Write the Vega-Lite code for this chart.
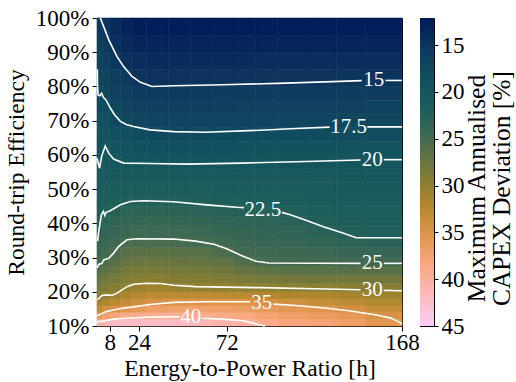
{
"$schema":"https://vega.github.io/schema/vega-lite/v6.json",
"autosize":{"type":"none"},
"padding":{"left":97,"top":18,"right":419,"bottom":364},
"bounds":"flush",
"spacing":18,
"config":{"font":"Liberation Serif","view":{"stroke":"black","strokeWidth":1},
"axis":{"labelFontSize":23,"titleFontSize":23.5,"titleFontWeight":"normal","labelColor":"black","titleColor":"black","tickColor":"black","domainColor":"black","tickSize":5,"grid":false,"labelFlush":false,"labelOverlap":false,"labelFont":"Liberation Serif","titleFont":"Liberation Serif"},
"axisY":{"labelOverlap":false},
"axisQuantitative":{"labelOverlap":false}},
"datasets":{
"cols":[{"x":2.5,"xa":1,"xb":4},{"x":6,"xa":4,"xb":8},{"x":11,"xa":8,"xb":14},{"x":17,"xa":14,"xb":20},{"x":24,"xa":20,"xb":28},{"x":34,"xa":28,"xb":40},{"x":46,"xa":40,"xb":52},{"x":58,"xa":52,"xb":64},{"x":70,"xa":64,"xb":76},{"x":82,"xa":76,"xb":88},{"x":94,"xa":88,"xb":100},{"x":108,"xa":100,"xb":116},{"x":124,"xa":116,"xb":132},{"x":140,"xa":132,"xb":148},{"x":158,"xa":148,"xb":168}],
"rows":[{"y":11,"ya":10,"yb":12},{"y":13,"ya":12,"yb":14},{"y":15,"ya":14,"yb":16},{"y":17,"ya":16,"yb":18},{"y":19,"ya":18,"yb":20},{"y":21.25,"ya":20,"yb":22.5},{"y":23.75,"ya":22.5,"yb":25},{"y":26.25,"ya":25,"yb":27.5},{"y":28.75,"ya":27.5,"yb":30},{"y":31.5,"ya":30,"yb":33},{"y":34.5,"ya":33,"yb":36},{"y":37.5,"ya":36,"yb":39},{"y":40.5,"ya":39,"yb":42},{"y":43.5,"ya":42,"yb":45},{"y":46.5,"ya":45,"yb":48},{"y":50,"ya":48,"yb":52},{"y":54,"ya":52,"yb":56},{"y":58,"ya":56,"yb":60},{"y":62,"ya":60,"yb":64},{"y":66,"ya":64,"yb":68},{"y":70,"ya":68,"yb":72},{"y":74,"ya":72,"yb":76},{"y":78,"ya":76,"yb":80},{"y":82.5,"ya":80,"yb":85},{"y":87.5,"ya":85,"yb":90},{"y":92.5,"ya":90,"yb":95},{"y":97.5,"ya":95,"yb":100}],
"cells":[
{"x":2.5,"y":11,"v":40.7},{"x":2.5,"y":13,"v":36.0},{"x":2.5,"y":15,"v":33.3},{"x":2.5,"y":17,"v":31.2},{"x":2.5,"y":19,"v":29.6},{"x":2.5,"y":21.25,"v":28.5},{"x":2.5,"y":23.75,"v":27.3},{"x":2.5,"y":26.25,"v":26.1},{"x":2.5,"y":28.75,"v":24.95},{"x":2.5,"y":31.5,"v":24.4},{"x":2.5,"y":34.5,"v":23.8},{"x":2.5,"y":37.5,"v":23.2},{"x":2.5,"y":40.5,"v":22.6},{"x":2.5,"y":43.5,"v":22.1},{"x":2.5,"y":46.5,"v":21.7},{"x":2.5,"y":50,"v":21.2},{"x":2.5,"y":54,"v":20.6},{"x":2.5,"y":58,"v":20.0},{"x":2.5,"y":62,"v":19.5},{"x":2.5,"y":66,"v":19.0},{"x":2.5,"y":70,"v":18.5},{"x":2.5,"y":74,"v":18.0},{"x":2.5,"y":78,"v":17.5},{"x":2.5,"y":82.5,"v":17.0},{"x":2.5,"y":87.5,"v":16.5},{"x":2.5,"y":92.5,"v":15.9},{"x":2.5,"y":97.5,"v":15.4},
{"x":6,"y":11,"v":41.2},{"x":6,"y":13,"v":37.3},{"x":6,"y":15,"v":34.2},{"x":6,"y":17,"v":32.1},{"x":6,"y":19,"v":30.0},{"x":6,"y":21.25,"v":28.9},{"x":6,"y":23.75,"v":27.8},{"x":6,"y":26.25,"v":26.6},{"x":6,"y":28.75,"v":25.4},{"x":6,"y":31.5,"v":24.7},{"x":6,"y":34.5,"v":24.1},{"x":6,"y":37.5,"v":23.6},{"x":6,"y":40.5,"v":23.1},{"x":6,"y":43.5,"v":22.5},{"x":6,"y":46.5,"v":22.1},{"x":6,"y":50,"v":21.6},{"x":6,"y":54,"v":21.1},{"x":6,"y":58,"v":20.5},{"x":6,"y":62,"v":20.0},{"x":6,"y":66,"v":19.3},{"x":6,"y":70,"v":18.6},{"x":6,"y":74,"v":17.8},{"x":6,"y":78,"v":17.2},{"x":6,"y":82.5,"v":16.7},{"x":6,"y":87.5,"v":16.0},{"x":6,"y":92.5,"v":15.4},{"x":6,"y":97.5,"v":14.7},
{"x":11,"y":11,"v":41.8},{"x":11,"y":13,"v":38.2},{"x":11,"y":15,"v":34.8},{"x":11,"y":17,"v":32.7},{"x":11,"y":19,"v":30.5},{"x":11,"y":21.25,"v":29.3},{"x":11,"y":23.75,"v":28.3},{"x":11,"y":26.25,"v":27.4},{"x":11,"y":28.75,"v":26.4},{"x":11,"y":31.5,"v":25.3},{"x":11,"y":34.5,"v":24.55},{"x":11,"y":37.5,"v":23.9},{"x":11,"y":40.5,"v":23.3},{"x":11,"y":43.5,"v":22.7},{"x":11,"y":46.5,"v":22.2},{"x":11,"y":50,"v":21.5},{"x":11,"y":54,"v":20.8},{"x":11,"y":58,"v":20.1},{"x":11,"y":62,"v":19.4},{"x":11,"y":66,"v":18.6},{"x":11,"y":70,"v":17.8},{"x":11,"y":74,"v":17.2},{"x":11,"y":78,"v":16.6},{"x":11,"y":82.5,"v":16.0},{"x":11,"y":87.5,"v":15.2},{"x":11,"y":92.5,"v":14.5},{"x":11,"y":97.5,"v":13.8},
{"x":17,"y":11,"v":42.1},{"x":17,"y":13,"v":38.8},{"x":17,"y":15,"v":35.5},{"x":17,"y":17,"v":33.5},{"x":17,"y":19,"v":31.8},{"x":17,"y":21.25,"v":29.9},{"x":17,"y":23.75,"v":29.0},{"x":17,"y":26.25,"v":28.1},{"x":17,"y":28.75,"v":27.2},{"x":17,"y":31.5,"v":26.25},{"x":17,"y":34.5,"v":25.2},{"x":17,"y":37.5,"v":24.4},{"x":17,"y":40.5,"v":23.75},{"x":17,"y":43.5,"v":23.1},{"x":17,"y":46.5,"v":22.4},{"x":17,"y":50,"v":21.6},{"x":17,"y":54,"v":20.8},{"x":17,"y":58,"v":19.9},{"x":17,"y":62,"v":19.1},{"x":17,"y":66,"v":18.2},{"x":17,"y":70,"v":17.4},{"x":17,"y":74,"v":16.7},{"x":17,"y":78,"v":16.1},{"x":17,"y":82.5,"v":15.3},{"x":17,"y":87.5,"v":14.5},{"x":17,"y":92.5,"v":13.7},{"x":17,"y":97.5,"v":13.0},
{"x":24,"y":11,"v":42.3},{"x":24,"y":13,"v":39.2},{"x":24,"y":15,"v":36.2},{"x":24,"y":17,"v":34.1},{"x":24,"y":19,"v":32.5},{"x":24,"y":21.25,"v":30.7},{"x":24,"y":23.75,"v":29.4},{"x":24,"y":26.25,"v":28.5},{"x":24,"y":28.75,"v":27.5},{"x":24,"y":31.5,"v":26.5},{"x":24,"y":34.5,"v":25.3},{"x":24,"y":37.5,"v":24.5},{"x":24,"y":40.5,"v":23.8},{"x":24,"y":43.5,"v":23.2},{"x":24,"y":46.5,"v":22.5},{"x":24,"y":50,"v":21.7},{"x":24,"y":54,"v":20.8},{"x":24,"y":58,"v":19.9},{"x":24,"y":62,"v":18.9},{"x":24,"y":66,"v":17.9},{"x":24,"y":70,"v":17.1},{"x":24,"y":74,"v":16.4},{"x":24,"y":78,"v":15.6},{"x":24,"y":82.5,"v":14.8},{"x":24,"y":87.5,"v":14.1},{"x":24,"y":92.5,"v":13.3},{"x":24,"y":97.5,"v":12.6},
{"x":34,"y":11,"v":42.0},{"x":34,"y":13,"v":39.5},{"x":34,"y":15,"v":36.9},{"x":34,"y":17,"v":34.6},{"x":34,"y":19,"v":32.9},{"x":34,"y":21.25,"v":31.0},{"x":34,"y":23.75,"v":29.5},{"x":34,"y":26.25,"v":28.5},{"x":34,"y":28.75,"v":27.6},{"x":34,"y":31.5,"v":26.5},{"x":34,"y":34.5,"v":25.4},{"x":34,"y":37.5,"v":24.5},{"x":34,"y":40.5,"v":23.9},{"x":34,"y":43.5,"v":23.2},{"x":34,"y":46.5,"v":22.5},{"x":34,"y":50,"v":21.7},{"x":34,"y":54,"v":20.8},{"x":34,"y":58,"v":19.8},{"x":34,"y":62,"v":18.8},{"x":34,"y":66,"v":17.8},{"x":34,"y":70,"v":16.95},{"x":34,"y":74,"v":16.2},{"x":34,"y":78,"v":15.4},{"x":34,"y":82.5,"v":14.65},{"x":34,"y":87.5,"v":13.95},{"x":34,"y":92.5,"v":13.25},{"x":34,"y":97.5,"v":12.55},
{"x":46,"y":11,"v":41.95},{"x":46,"y":13,"v":39.65},{"x":46,"y":15,"v":37.3},{"x":46,"y":17,"v":35.0},{"x":46,"y":19,"v":32.8},{"x":46,"y":21.25,"v":30.4},{"x":46,"y":23.75,"v":29.2},{"x":46,"y":26.25,"v":28.3},{"x":46,"y":28.75,"v":27.4},{"x":46,"y":31.5,"v":26.4},{"x":46,"y":34.5,"v":25.3},{"x":46,"y":37.5,"v":24.5},{"x":46,"y":40.5,"v":23.8},{"x":46,"y":43.5,"v":23.1},{"x":46,"y":46.5,"v":22.4},{"x":46,"y":50,"v":21.6},{"x":46,"y":54,"v":20.7},{"x":46,"y":58,"v":19.8},{"x":46,"y":62,"v":18.75},{"x":46,"y":66,"v":17.7},{"x":46,"y":70,"v":16.9},{"x":46,"y":74,"v":16.1},{"x":46,"y":78,"v":15.4},{"x":46,"y":82.5,"v":14.65},{"x":46,"y":87.5,"v":13.95},{"x":46,"y":92.5,"v":13.25},{"x":46,"y":97.5,"v":12.55},
{"x":58,"y":11,"v":41.4},{"x":58,"y":13,"v":39.3},{"x":58,"y":15,"v":37.2},{"x":58,"y":17,"v":35.1},{"x":58,"y":19,"v":32.8},{"x":58,"y":21.25,"v":30.2},{"x":58,"y":23.75,"v":29.1},{"x":58,"y":26.25,"v":28.2},{"x":58,"y":28.75,"v":27.2},{"x":58,"y":31.5,"v":26.2},{"x":58,"y":34.5,"v":25.0},{"x":58,"y":37.5,"v":24.3},{"x":58,"y":40.5,"v":23.7},{"x":58,"y":43.5,"v":23.0},{"x":58,"y":46.5,"v":22.3},{"x":58,"y":50,"v":21.6},{"x":58,"y":54,"v":20.7},{"x":58,"y":58,"v":19.8},{"x":58,"y":62,"v":18.75},{"x":58,"y":66,"v":17.7},{"x":58,"y":70,"v":16.9},{"x":58,"y":74,"v":16.2},{"x":58,"y":78,"v":15.4},{"x":58,"y":82.5,"v":14.7},{"x":58,"y":87.5,"v":14.0},{"x":58,"y":92.5,"v":13.3},{"x":58,"y":97.5,"v":12.6},
{"x":70,"y":11,"v":40.85},{"x":70,"y":13,"v":38.9},{"x":70,"y":15,"v":37.0},{"x":70,"y":17,"v":35.1},{"x":70,"y":19,"v":32.7},{"x":70,"y":21.25,"v":30.1},{"x":70,"y":23.75,"v":28.95},{"x":70,"y":26.25,"v":27.9},{"x":70,"y":28.75,"v":26.8},{"x":70,"y":31.5,"v":25.6},{"x":70,"y":34.5,"v":24.7},{"x":70,"y":37.5,"v":24.1},{"x":70,"y":40.5,"v":23.45},{"x":70,"y":43.5,"v":22.8},{"x":70,"y":46.5,"v":22.2},{"x":70,"y":50,"v":21.5},{"x":70,"y":54,"v":20.7},{"x":70,"y":58,"v":19.9},{"x":70,"y":62,"v":18.8},{"x":70,"y":66,"v":17.8},{"x":70,"y":70,"v":16.9},{"x":70,"y":74,"v":16.2},{"x":70,"y":78,"v":15.5},{"x":70,"y":82.5,"v":14.7},{"x":70,"y":87.5,"v":14.0},{"x":70,"y":92.5,"v":13.3},{"x":70,"y":97.5,"v":12.6},
{"x":82,"y":11,"v":40.25},{"x":82,"y":13,"v":38.5},{"x":82,"y":15,"v":36.8},{"x":82,"y":17,"v":35.1},{"x":82,"y":19,"v":32.7},{"x":82,"y":21.25,"v":30.0},{"x":82,"y":23.75,"v":28.6},{"x":82,"y":26.25,"v":27.2},{"x":82,"y":28.75,"v":25.85},{"x":82,"y":31.5,"v":24.8},{"x":82,"y":34.5,"v":24.3},{"x":82,"y":37.5,"v":23.8},{"x":82,"y":40.5,"v":23.2},{"x":82,"y":43.5,"v":22.7},{"x":82,"y":46.5,"v":22.2},{"x":82,"y":50,"v":21.5},{"x":82,"y":54,"v":20.7},{"x":82,"y":58,"v":19.9},{"x":82,"y":62,"v":18.9},{"x":82,"y":66,"v":17.8},{"x":82,"y":70,"v":17.0},{"x":82,"y":74,"v":16.25},{"x":82,"y":78,"v":15.5},{"x":82,"y":82.5,"v":14.7},{"x":82,"y":87.5,"v":14.0},{"x":82,"y":92.5,"v":13.3},{"x":82,"y":97.5,"v":12.6},
{"x":94,"y":11,"v":39.1},{"x":94,"y":13,"v":37.65},{"x":94,"y":15,"v":36.2},{"x":94,"y":17,"v":34.7},{"x":94,"y":19,"v":32.4},{"x":94,"y":21.25,"v":29.9},{"x":94,"y":23.75,"v":28.2},{"x":94,"y":26.25,"v":26.6},{"x":94,"y":28.75,"v":25.0},{"x":94,"y":31.5,"v":24.5},{"x":94,"y":34.5,"v":24.0},{"x":94,"y":37.5,"v":23.6},{"x":94,"y":40.5,"v":23.1},{"x":94,"y":43.5,"v":22.6},{"x":94,"y":46.5,"v":22.05},{"x":94,"y":50,"v":21.4},{"x":94,"y":54,"v":20.7},{"x":94,"y":58,"v":20.0},{"x":94,"y":62,"v":18.9},{"x":94,"y":66,"v":17.9},{"x":94,"y":70,"v":17.0},{"x":94,"y":74,"v":16.3},{"x":94,"y":78,"v":15.5},{"x":94,"y":82.5,"v":14.8},{"x":94,"y":87.5,"v":14.05},{"x":94,"y":92.5,"v":13.3},{"x":94,"y":97.5,"v":12.6},
{"x":108,"y":11,"v":38.3},{"x":108,"y":13,"v":37.0},{"x":108,"y":15,"v":35.7},{"x":108,"y":17,"v":34.0},{"x":108,"y":19,"v":32.0},{"x":108,"y":21.25,"v":29.8},{"x":108,"y":23.75,"v":28.1},{"x":108,"y":26.25,"v":26.4},{"x":108,"y":28.75,"v":24.9},{"x":108,"y":31.5,"v":24.4},{"x":108,"y":34.5,"v":23.9},{"x":108,"y":37.5,"v":23.4},{"x":108,"y":40.5,"v":22.85},{"x":108,"y":43.5,"v":22.3},{"x":108,"y":46.5,"v":21.9},{"x":108,"y":50,"v":21.3},{"x":108,"y":54,"v":20.7},{"x":108,"y":58,"v":20.0},{"x":108,"y":62,"v":19.0},{"x":108,"y":66,"v":18.0},{"x":108,"y":70,"v":17.1},{"x":108,"y":74,"v":16.3},{"x":108,"y":78,"v":15.6},{"x":108,"y":82.5,"v":14.8},{"x":108,"y":87.5,"v":14.05},{"x":108,"y":92.5,"v":13.3},{"x":108,"y":97.5,"v":12.6},
{"x":124,"y":11,"v":37.85},{"x":124,"y":13,"v":36.6},{"x":124,"y":15,"v":35.3},{"x":124,"y":17,"v":33.5},{"x":124,"y":19,"v":31.7},{"x":124,"y":21.25,"v":29.7},{"x":124,"y":23.75,"v":28.0},{"x":124,"y":26.25,"v":26.4},{"x":124,"y":28.75,"v":24.9},{"x":124,"y":31.5,"v":24.3},{"x":124,"y":34.5,"v":23.6},{"x":124,"y":37.5,"v":22.9},{"x":124,"y":40.5,"v":22.3},{"x":124,"y":43.5,"v":21.9},{"x":124,"y":46.5,"v":21.5},{"x":124,"y":50,"v":21.1},{"x":124,"y":54,"v":20.6},{"x":124,"y":58,"v":20.0},{"x":124,"y":62,"v":19.05},{"x":124,"y":66,"v":18.0},{"x":124,"y":70,"v":17.1},{"x":124,"y":74,"v":16.4},{"x":124,"y":78,"v":15.6},{"x":124,"y":82.5,"v":14.8},{"x":124,"y":87.5,"v":14.1},{"x":124,"y":92.5,"v":13.3},{"x":124,"y":97.5,"v":12.6},
{"x":140,"y":11,"v":37.1},{"x":140,"y":13,"v":35.9},{"x":140,"y":15,"v":34.5},{"x":140,"y":17,"v":32.9},{"x":140,"y":19,"v":31.3},{"x":140,"y":21.25,"v":29.6},{"x":140,"y":23.75,"v":28.0},{"x":140,"y":26.25,"v":26.3},{"x":140,"y":28.75,"v":24.9},{"x":140,"y":31.5,"v":24.0},{"x":140,"y":34.5,"v":23.1},{"x":140,"y":37.5,"v":22.4},{"x":140,"y":40.5,"v":22.05},{"x":140,"y":43.5,"v":21.7},{"x":140,"y":46.5,"v":21.4},{"x":140,"y":50,"v":21.0},{"x":140,"y":54,"v":20.5},{"x":140,"y":58,"v":20.05},{"x":140,"y":62,"v":19.1},{"x":140,"y":66,"v":18.1},{"x":140,"y":70,"v":17.2},{"x":140,"y":74,"v":16.4},{"x":140,"y":78,"v":15.7},{"x":140,"y":82.5,"v":14.9},{"x":140,"y":87.5,"v":14.1},{"x":140,"y":92.5,"v":13.3},{"x":140,"y":97.5,"v":12.6},
{"x":158,"y":11,"v":35.6},{"x":158,"y":13,"v":34.7},{"x":158,"y":15,"v":33.5},{"x":158,"y":17,"v":32.2},{"x":158,"y":19,"v":30.9},{"x":158,"y":21.25,"v":29.5},{"x":158,"y":23.75,"v":27.9},{"x":158,"y":26.25,"v":26.3},{"x":158,"y":28.75,"v":24.85},{"x":158,"y":31.5,"v":23.9},{"x":158,"y":34.5,"v":22.9},{"x":158,"y":37.5,"v":22.3},{"x":158,"y":40.5,"v":22.0},{"x":158,"y":43.5,"v":21.7},{"x":158,"y":46.5,"v":21.4},{"x":158,"y":50,"v":20.9},{"x":158,"y":54,"v":20.5},{"x":158,"y":58,"v":20.07},{"x":158,"y":62,"v":19.1},{"x":158,"y":66,"v":18.2},{"x":158,"y":70,"v":17.2},{"x":158,"y":74,"v":16.5},{"x":158,"y":78,"v":15.7},{"x":158,"y":82.5,"v":14.9},{"x":158,"y":87.5,"v":14.1},{"x":158,"y":92.5,"v":13.3},{"x":158,"y":97.5,"v":12.6}
],
"lines":[
{"c":"15a","x":2.8,"y":100},{"c":"15a","x":4.3,"y":98},{"c":"15a","x":7.4,"y":93.7},{"c":"15a","x":9.2,"y":91.7},{"c":"15a","x":11.9,"y":88.8},{"c":"15a","x":15.6,"y":85.8},{"c":"15a","x":20.2,"y":82.9},{"c":"15a","x":24.8,"y":81.2},{"c":"15a","x":31.1,"y":80.0},{"c":"15a","x":43,"y":80.2},{"c":"15a","x":70,"y":80.5},{"c":"15a","x":100,"y":80.9},{"c":"15a","x":130,"y":81.4},{"c":"15a","x":146,"y":81.7},
{"c":"15b","x":159,"y":81.75},{"c":"15b","x":168,"y":81.75},
{"c":"17a","x":1.2,"y":85},{"c":"17a","x":1.3,"y":80},{"c":"17a","x":1.6,"y":77.5},{"c":"17a","x":2.5,"y":77.3},{"c":"17a","x":3.5,"y":78},{"c":"17a","x":4.5,"y":76.8},{"c":"17a","x":6,"y":76},{"c":"17a","x":8.3,"y":73.7},{"c":"17a","x":10.5,"y":71.8},{"c":"17a","x":13.8,"y":69.8},{"c":"17a","x":17,"y":68.9},{"c":"17a","x":21,"y":68.3},{"c":"17a","x":30,"y":67.3},{"c":"17a","x":43,"y":66.8},{"c":"17a","x":60,"y":66.6},{"c":"17a","x":90,"y":67.2},{"c":"17a","x":110,"y":67.7},{"c":"17a","x":128.4,"y":68.1},
{"c":"17b","x":149,"y":68.2},{"c":"17b","x":168,"y":68.2},
{"c":"20a","x":1.0,"y":59.0},{"c":"20a","x":2.4,"y":56.1},{"c":"20a","x":3.5,"y":59.5},{"c":"20a","x":5.5,"y":62.6},{"c":"20a","x":7.4,"y":60.5},{"c":"20a","x":10.1,"y":58.8},{"c":"20a","x":15.6,"y":57.6},{"c":"20a","x":30,"y":57.5},{"c":"20a","x":50,"y":57.3},{"c":"20a","x":80,"y":57.6},{"c":"20a","x":110,"y":58.0},{"c":"20a","x":145.3,"y":58.5},
{"c":"20b","x":158,"y":58.6},{"c":"20b","x":168,"y":58.6},
{"c":"22a","x":1.3,"y":34.8},{"c":"22a","x":1.8,"y":37},{"c":"22a","x":2.1,"y":38.1},{"c":"22a","x":3.4,"y":42.5},{"c":"22a","x":4.5,"y":43.5},{"c":"22a","x":5.3,"y":42.3},{"c":"22a","x":6,"y":43.2},{"c":"22a","x":8.3,"y":43.7},{"c":"22a","x":13.8,"y":45.4},{"c":"22a","x":19.3,"y":46.4},{"c":"22a","x":26.6,"y":46.6},{"c":"22a","x":43,"y":46.3},{"c":"22a","x":61,"y":45.4},{"c":"22a","x":77.5,"y":44.7},{"c":"22a","x":81.5,"y":44.6},
{"c":"22b","x":102.2,"y":43.2},{"c":"22b","x":106.8,"y":42.5},{"c":"22b","x":115,"y":41},{"c":"22b","x":125,"y":39},{"c":"22b","x":136,"y":37.1},{"c":"22b","x":143,"y":35.8},{"c":"22b","x":168,"y":35.8},
{"c":"25a","x":1.0,"y":26.9},{"c":"25a","x":1.9,"y":28.0},{"c":"25a","x":3.7,"y":28.3},{"c":"25a","x":4.7,"y":29.3},{"c":"25a","x":7.4,"y":29.8},{"c":"25a","x":10.1,"y":31.3},{"c":"25a","x":12.8,"y":33.2},{"c":"25a","x":17.4,"y":35.2},{"c":"25a","x":22.7,"y":35.5},{"c":"25a","x":43,"y":35.4},{"c":"25a","x":55,"y":34.8},{"c":"25a","x":65,"y":33.9},{"c":"25a","x":72,"y":32.6},{"c":"25a","x":80,"y":30.6},{"c":"25a","x":88,"y":28.9},{"c":"25a","x":95,"y":28.4},{"c":"25a","x":145.3,"y":28.3},
{"c":"25b","x":158,"y":28.3},{"c":"25b","x":168,"y":28.3},
{"c":"30a","x":1.0,"y":17.6},{"c":"30a","x":3.7,"y":18.9},{"c":"30a","x":6.4,"y":19.1},{"c":"30a","x":9.2,"y":18.9},{"c":"30a","x":12,"y":19.6},{"c":"30a","x":17.4,"y":21.5},{"c":"30a","x":21,"y":22.2},{"c":"30a","x":28.4,"y":22.5},{"c":"30a","x":35.8,"y":22.4},{"c":"30a","x":43,"y":21.9},{"c":"30a","x":55,"y":21.5},{"c":"30a","x":90,"y":21.2},{"c":"30a","x":120,"y":20.9},{"c":"30a","x":145.3,"y":20.6},
{"c":"30b","x":158,"y":20.4},{"c":"30b","x":168,"y":20.3},
{"c":"35a","x":1.0,"y":13.0},{"c":"35a","x":2.8,"y":13.4},{"c":"35a","x":6,"y":14.2},{"c":"35a","x":10,"y":14.7},{"c":"35a","x":15,"y":15.2},{"c":"35a","x":21,"y":15.6},{"c":"35a","x":30,"y":16.3},{"c":"35a","x":43,"y":16.9},{"c":"35a","x":60,"y":17.1},{"c":"35a","x":84.8,"y":17.1},
{"c":"35b","x":97.6,"y":16.4},{"c":"35b","x":110,"y":16.0},{"c":"35b","x":127,"y":15.2},{"c":"35b","x":140,"y":14.4},{"c":"35b","x":154,"y":13.2},{"c":"35b","x":162,"y":12.3},{"c":"35b","x":167,"y":11},{"c":"35b","x":168,"y":10.5},
{"c":"40a","x":1.0,"y":11.2},{"c":"40a","x":5,"y":11.5},{"c":"40a","x":10,"y":12.0},{"c":"40a","x":17.4,"y":12.25},{"c":"40a","x":30,"y":12.6},{"c":"40a","x":46.4,"y":12.7},
{"c":"40b","x":58.3,"y":12.25},{"c":"40b","x":70,"y":12.0},{"c":"40b","x":81,"y":11.55},{"c":"40b","x":90.3,"y":10.3},{"c":"40b","x":93,"y":10}
],
"labels":[
{"t":"15","x":152.6,"y":81.75},{"t":"17.5","x":138.8,"y":68.2},{"t":"20","x":151.7,"y":58.6},{"t":"22.5","x":91.8,"y":44.0},{"t":"25","x":151.7,"y":28.3},{"t":"30","x":151.7,"y":20.5},{"t":"35","x":91.2,"y":16.8},{"t":"40","x":52.3,"y":12.6}
],
"bar":[{"lo":12.1,"hi":45}]
},
"hconcat":[
{"width":305,"height":308,
"layer":[
{"data":{"name":"cells"},
"transform":[{"lookup":"x","from":{"data":{"name":"cols"},"key":"x","fields":["xa","xb"]}},{"lookup":"y","from":{"data":{"name":"rows"},"key":"y","fields":["ya","yb"]}}],
"mark":{"type":"rect","strokeWidth":0.6},
"encoding":{
"x":{"field":"xa","type":"quantitative","scale":{"domain":[1,168],"nice":false,"zero":false},"axis":{"values":[8,24,72,168],"title":"Energy-to-Power Ratio [h]","labelPadding":0,"titlePadding":2,"labelOverlap":false,"labelFlush":false}},
"x2":{"field":"xb"},
"y":{"field":"ya","type":"quantitative","scale":{"domain":[10,100],"nice":false,"zero":false},"axis":{"values":[10,20,30,40,50,60,70,80,90,100],"labelExpr":"datum.value + '%'","title":"Round-trip Efficiency","labelPadding":3,"titlePadding":7,"labelOverlap":false,"labelFlush":false}},
"y2":{"field":"yb"},
"color":{"field":"v","type":"quantitative","scale":{"type":"linear","interpolate":"rgb","domain":[12.1,15.39,18.68,21.97,25.26,28.55,31.84,35.13,38.42,41.71,45],"range":["#011959","#0e3a5e","#10515f","#1c5e5b","#486c4f","#7a7a37","#ad8629","#df9449","#fba77f","#fdb9bd","#faccfa"]},"legend":null},
"stroke":{"field":"v","type":"quantitative","scale":{"type":"linear","interpolate":"rgb","domain":[12.1,15.39,18.68,21.97,25.26,28.55,31.84,35.13,38.42,41.71,45],"range":["#011959","#0e3a5e","#10515f","#1c5e5b","#486c4f","#7a7a37","#ad8629","#df9449","#fba77f","#fdb9bd","#faccfa"]},"legend":null}
}},
{"data":{"name":"lines"},
"mark":{"type":"line","color":"white","strokeWidth":1.6},
"encoding":{"x":{"field":"x","type":"quantitative","axis":{"values":[8,24,72,168],"title":"Energy-to-Power Ratio [h]","labelPadding":0,"titlePadding":2,"labelOverlap":false,"labelFlush":false}},"y":{"field":"y","type":"quantitative","axis":{"values":[10,20,30,40,50,60,70,80,90,100],"labelExpr":"datum.value + '%'","title":"Round-trip Efficiency","labelPadding":3,"titlePadding":7,"labelOverlap":false,"labelFlush":false}},"detail":{"field":"c"}}},
{"data":{"name":"labels"},
"mark":{"type":"text","color":"white","fontSize":21,"baseline":"middle","align":"center","font":"Liberation Serif"},
"encoding":{"x":{"field":"x","type":"quantitative","axis":{"values":[8,24,72,168],"title":"Energy-to-Power Ratio [h]","labelPadding":0,"titlePadding":2,"labelOverlap":false,"labelFlush":false}},"y":{"field":"y","type":"quantitative","axis":{"values":[10,20,30,40,50,60,70,80,90,100],"labelExpr":"datum.value + '%'","title":"Round-trip Efficiency","labelPadding":3,"titlePadding":7,"labelOverlap":false,"labelFlush":false}},"text":{"field":"t"}}}
]},
{"width":14,"height":308,
"data":{"name":"bar"},
"mark":{"type":"rect","color":{"gradient":"linear","x1":0,"y1":0,"x2":0,"y2":1,"stops":[{"offset":0,"color":"#011959"},{"offset":0.1,"color":"#0e3a5e"},{"offset":0.2,"color":"#10515f"},{"offset":0.3,"color":"#1c5e5b"},{"offset":0.4,"color":"#486c4f"},{"offset":0.5,"color":"#7a7a37"},{"offset":0.6,"color":"#ad8629"},{"offset":0.7,"color":"#df9449"},{"offset":0.8,"color":"#fba77f"},{"offset":0.9,"color":"#fdb9bd"},{"offset":1,"color":"#faccfa"}]}},
"encoding":{
"y":{"field":"lo","type":"quantitative","scale":{"domain":[12.1,45],"reverse":true,"nice":false,"zero":false},"axis":{"orient":"right","values":[15,20,25,30,35,40,45],"domain":false,"tickSize":4,"labelPadding":3,"labelOverlap":false,"labelFlush":false,"title":["Maximum Annualised","CAPEX Deviation [%]"],"titleAngle":270,"titleFontSize":25.5,"titleLineHeight":25,"titlePadding":0,"titleY":170}},
"y2":{"field":"hi"}
}}
]
}
